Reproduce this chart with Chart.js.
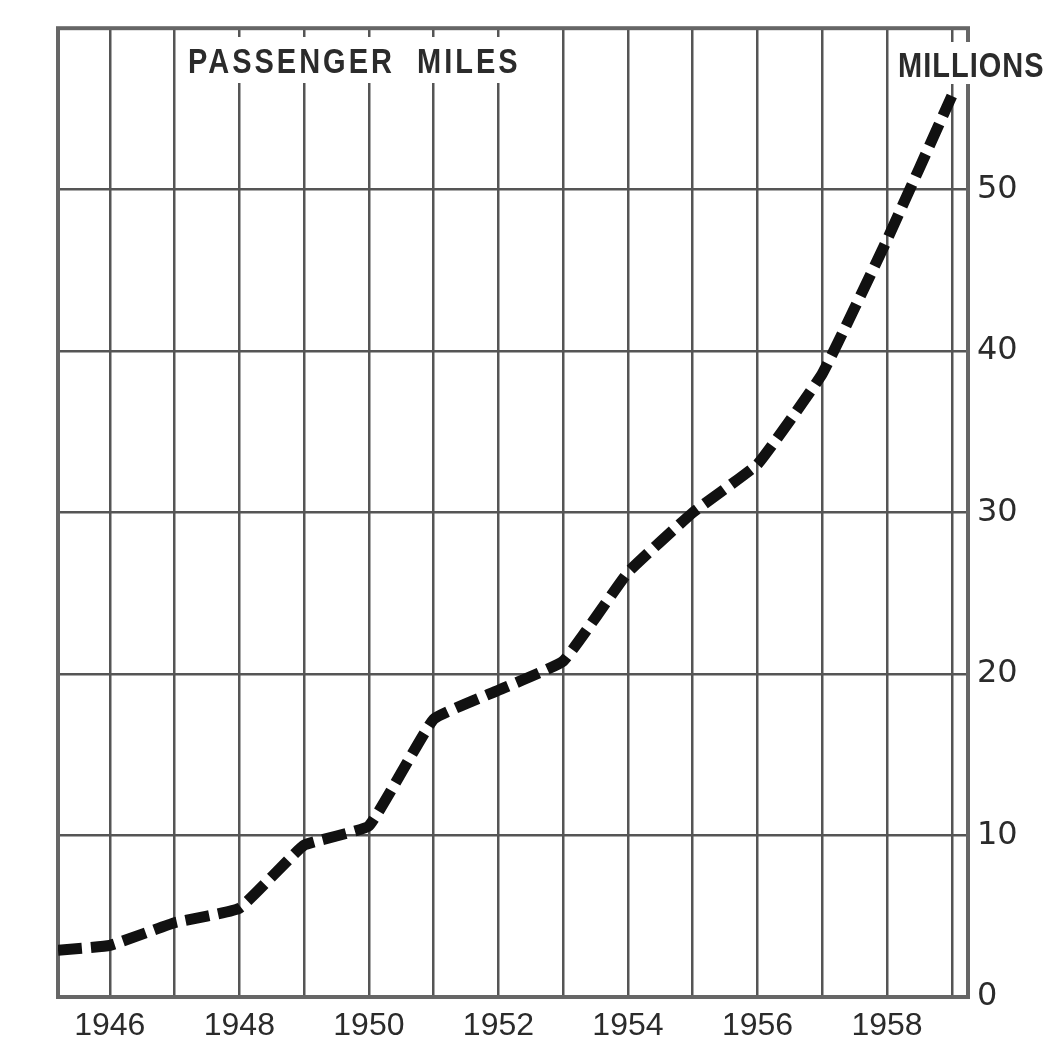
<!DOCTYPE html>
<html>
<head>
<meta charset="utf-8">
<script src="https://cdn.jsdelivr.net/npm/chart.js@4"></script>
<style>
    body { margin: 0; background: #fff; }
    #wrap { width: 1049px; height: 1042px; }
</style>
</head>
<body>
<div id="wrap"><canvas id="passenger_miles" width="1049" height="1042"></canvas></div>
<script>
// values (millions of passenger miles)
const years = [1945.2, 1946, 1947, 1948, 1949, 1950, 1951, 1952, 1953, 1954, 1955, 1956, 1957, 1958, 1959];
const miles = [2.9, 3.2, 4.6, 5.5, 9.4, 10.6, 17.2, 19.0, 20.8, 26.3, 30.0, 33.0, 38.6, 46.9, 55.8];
const gridYears = [1946, 1947, 1948, 1949, 1950, 1951, 1952, 1953, 1954, 1955, 1956, 1957, 1958, 1959];
const yearLabels = [1946, 1948, 1950, 1952, 1954, 1956, 1958];
const yTicks = [0, 10, 20, 30, 40, 50];

const points = [];
for (let i = 0; i < years.length; i++) {
    points.push({x: years[i], y: miles[i]});
}

const gridColor = '#555';
const textColor = '#2b2b2b';

// frame + the two captions sitting on white patches over the grid
const captions = {
    id: 'captions',
    beforeDatasetsDraw(chart) {
        const ctx = chart.ctx;
        const a = chart.chartArea;
        ctx.save();
        ctx.strokeStyle = '#666';
        ctx.lineWidth = 4;
        ctx.strokeRect(a.left, a.top, a.right - a.left, a.bottom - a.top);

        ctx.fillStyle = '#fff';
        ctx.fillRect(183, 37, 344, 46);
        ctx.fillRect(893, 42, 156, 42);

        ctx.fillStyle = textColor;
        ctx.textBaseline = 'alphabetic';
        ctx.font = 'bold 29px "Liberation Sans"';
        // letters in the original are tall and narrow
        ctx.scale(1, 1.2);
        ctx.letterSpacing = '3px';
        ctx.fillText('PASSENGER  MILES', 188, 73 / 1.2);
        ctx.letterSpacing = '1px';
        ctx.fillText('MILLIONS', 898, 77 / 1.2);
        ctx.restore();
    }
};

const chart1 = document.getElementById('passenger_miles');

new Chart(chart1, {
    type: 'line',
    data: {
        datasets: [{
            label: 'Passenger miles',
            data: points,
            borderColor: '#111',
            borderWidth: 11,
            borderDash: [24, 9],
            borderCapStyle: 'butt',
            pointRadius: 0,
            fill: false,
            tension: 0.1
        }]
    },
    options: {
        responsive: false,
        animation: false,
        layout: {
            padding: {left: 58, top: 24, right: 0, bottom: 0}
        },
        scales: {
            x: {
                type: 'linear',
                min: 1945.2,
                max: 1959.25,
                afterBuildTicks: scale => {
                    scale.ticks = gridYears.map(v => ({value: v}));
                },
                afterFit: scale => {
                    scale.height = 45;
                },
                grid: {
                    color: gridColor,
                    lineWidth: 2.5,
                    drawTicks: false
                },
                border: {
                    display: false
                },
                ticks: {
                    padding: 10,
                    maxRotation: 0,
                    autoSkip: false,
                    color: textColor,
                    font: {family: 'Liberation Sans', size: 32},
                    callback: v => yearLabels.includes(v) ? String(v) : ''
                }
            },
            y: {
                position: 'right',
                min: 0,
                max: 60,
                afterBuildTicks: scale => {
                    scale.ticks = yTicks.concat([60]).map(v => ({value: v}));
                },
                afterFit: scale => {
                    scale.width = 81;
                },
                grid: {
                    color: gridColor,
                    lineWidth: 2.5,
                    drawTicks: false
                },
                border: {
                    display: false
                },
                ticks: {
                    padding: 9,
                    color: textColor,
                    font: {family: 'DejaVu Sans', size: 32},
                    callback: v => yTicks.includes(v) ? String(v) : ''
                }
            }
        },
        plugins: {
            legend: {display: false},
            tooltip: {enabled: false}
        }
    },
    plugins: [captions]
});
</script>
</body>
</html>
